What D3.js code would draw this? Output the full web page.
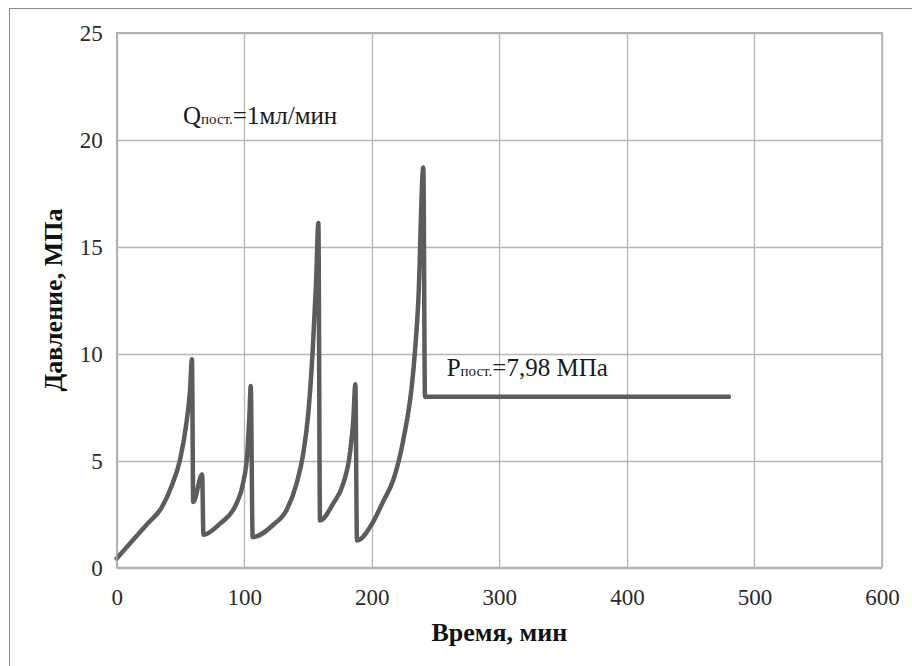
<!DOCTYPE html>
<html>
<head>
<meta charset="utf-8">
<script src="https://cdn.jsdelivr.net/npm/d3@7"></script>
<style>
  html, body { margin: 0; padding: 0; background: #fff; }
  svg { display: block; }
</style>
</head>
<body>
<svg id="chart" width="912" height="666"></svg>
<script>
// Data
const timeMin = [0, 10, 25, 35, 43, 49.6, 54.3, 57.5, 59, 60, 67, 68, 81, 91.4, 94, 99.3, 102.4, 104, 105.1, 106.6,
  122.8, 133.3, 141.1, 146.3, 150.2, 153.7, 156.3, 158.1, 159.4, 169.8, 177.7, 182.9, 185.5, 187.1, 188.4,
  201.2, 209, 216.9, 224.7, 232.5, 236.5, 240.4, 241.7, 480];
const pressureMPa = [0.42, 1.1, 2.1, 2.78, 3.8, 5.03, 6.6, 8.3, 9.74, 3.06, 4.35, 1.53, 2.05, 2.7, 3.0, 4.0, 5.35, 7.05, 8.49, 1.42,
  2.0, 2.7, 3.94, 5.35, 7.2, 10.17, 13.3, 16.1, 2.2, 3.0, 3.94, 5.35, 6.9, 8.57, 1.26,
  2.15, 3.1, 4.1, 5.97, 9.16, 12.5, 18.7, 7.98, 7.98];
const xTicks = [0, 100, 200, 300, 400, 500, 600];
const yTicks = [0, 5, 10, 15, 20, 25];
const xTitle = "Время, мин";
const yTitle = "Давление, МПа";
const noteQ = { main: "Q", sub: "пост.", rest: "=1мл/мин", t: 52, p: 20.75 };
const noteP = { main: "P", sub: "пост.", rest: "=7,98 МПа", t: 258.7, p: 8.95 };

const FONT = '"Liberation Serif", "Tinos", "Times New Roman", "DejaVu Serif", serif';

const svg = d3.select("#chart").style("font-family", FONT);
const plot = { left: 116.7, right: 882, top: 32.7, bottom: 567.5 };

const x = d3.scaleLinear().domain([0, 600]).range([plot.left, plot.right]);
const y = d3.scaleLinear().domain([0, 25]).range([plot.bottom, plot.top]);

// outer chart border
svg.append("rect").attr("x", 9.5).attr("y", 8.5).attr("width", 920).attr("height", 680)
  .attr("fill", "none").attr("stroke", "#8c8c8c").attr("stroke-width", 1);

// gridlines
const grid = svg.append("g");
grid.selectAll("line.v").data(xTicks).join("line")
  .attr("x1", d => Math.round(x(d)) + 0.5).attr("x2", d => Math.round(x(d)) + 0.5)
  .attr("y1", plot.top).attr("y2", plot.bottom)
  .attr("stroke", "#b5b5b5").attr("stroke-width", 1.3);
grid.selectAll("line.h").data(yTicks).join("line")
  .attr("y1", d => Math.round(y(d)) + 0.5).attr("y2", d => Math.round(y(d)) + 0.5)
  .attr("x1", plot.left).attr("x2", plot.right)
  .attr("stroke", "#b5b5b5").attr("stroke-width", 1.3);

// axes (labels only, via d3 axes)
const xAxis = d3.axisBottom(x).tickValues(xTicks).tickSize(0).tickPadding(0).tickFormat(d3.format("d"));
const gx = svg.append("g").attr("transform", `translate(0,${plot.bottom})`).call(xAxis)
  .attr("font-family", FONT).attr("font-size", 23);
gx.select(".domain").remove();
gx.selectAll("text").attr("dy", null).attr("y", 37).attr("fill", "#2a2a2a");

const yAxis = d3.axisLeft(y).tickValues(yTicks).tickSize(0).tickPadding(0).tickFormat(d3.format("d"));
const gy = svg.append("g").attr("transform", `translate(${plot.left},0)`).call(yAxis)
  .attr("font-family", FONT).attr("font-size", 23);
gy.select(".domain").remove();
gy.selectAll("text").attr("x", -14).attr("dy", "0.33em").attr("fill", "#2a2a2a");

// axis titles
svg.append("text").attr("x", (plot.left + plot.right) / 2).attr("y", 641)
  .attr("text-anchor", "middle").attr("font-family", FONT).attr("font-size", 26).attr("font-weight", "bold")
  .attr("fill", "#111").text(xTitle);
svg.append("text").attr("transform", `translate(62,${(plot.top + plot.bottom) / 2}) rotate(-90)`)
  .attr("text-anchor", "middle").attr("font-family", FONT).attr("font-size", 26).attr("font-weight", "bold")
  .attr("fill", "#111").text(yTitle);

// data line
const line = d3.line().x((d, i) => x(timeMin[i])).y((d, i) => y(pressureMPa[i])).curve(d3.curveMonotoneX);
svg.append("path").datum(timeMin).attr("d", line)
  .attr("fill", "none").attr("stroke", "#5c5c5c").attr("stroke-width", 4.5)
  .attr("stroke-linejoin", "round").attr("stroke-linecap", "round");

// plot border (drawn on top)
svg.append("rect").attr("x", plot.left).attr("y", plot.top)
  .attr("width", plot.right - plot.left).attr("height", plot.bottom - plot.top)
  .attr("fill", "none").attr("stroke", "#b0b0b0").attr("stroke-width", 1.5);

// annotations
function note(n) {
  const t = svg.append("text").attr("x", x(n.t)).attr("y", y(n.p)).attr("font-family", FONT)
    .attr("font-size", 25).attr("fill", "#1a1a1a");
  t.append("tspan").text(n.main);
  t.append("tspan").attr("font-size", 15).text(n.sub);
  t.append("tspan").text(n.rest);
}
note(noteQ);
note(noteP);
</script>
</body>
</html>
